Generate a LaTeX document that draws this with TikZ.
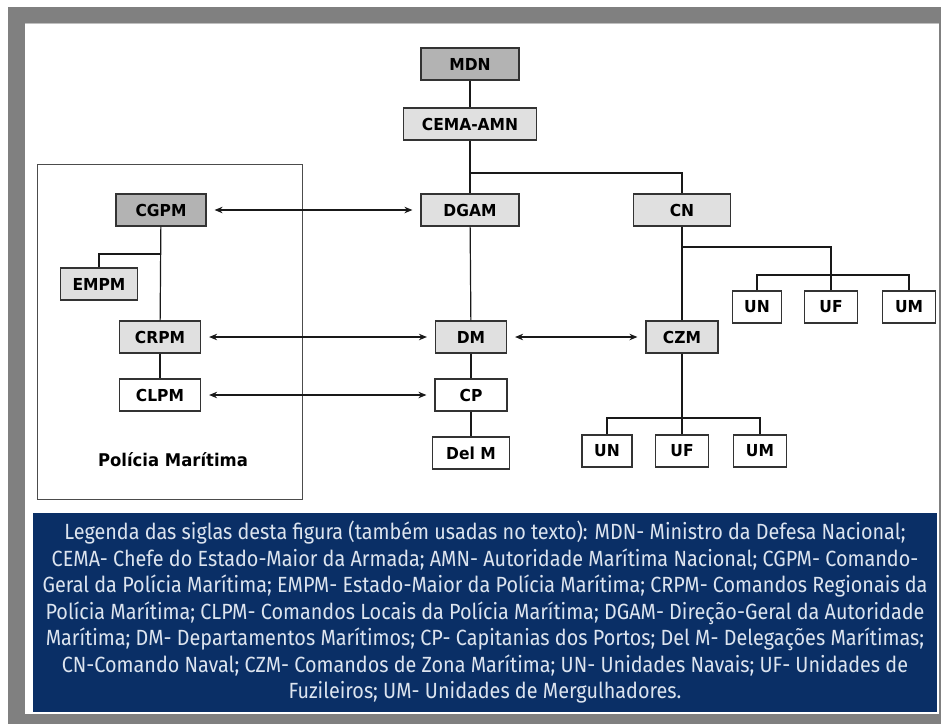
\documentclass[tikz,border=0pt]{standalone}
\usepackage{fontspec}
\setmainfont{DejaVu Sans}
\newfontfamily\boxfont[FakeStretch=0.94]{DejaVu Sans}
\newfontfamily\legendfont[FakeStretch=0.9]{Fira Sans}
\usetikzlibrary{arrows.meta}

\definecolor{framegray}{HTML}{808080}
\definecolor{darkfill}{HTML}{B3B3B3}
\definecolor{lightfill}{HTML}{E0E0E0}
\definecolor{boxline}{HTML}{333333}
\definecolor{legendblue}{HTML}{0A2F66}
\definecolor{legendtext}{HTML}{DCE4EF}

\tikzset{
  unit/.style={draw=boxline, line width=1.2pt, minimum height=32pt, inner sep=0pt,
    font=\boxfont\fontsize{16.5}{19}\selectfont\bfseries, text=black},
  dark/.style={unit, fill=darkfill},
  light/.style={unit, fill=lightfill},
  plain/.style={unit, fill=white},
  link/.style={line width=1.2pt, draw=black!90},
  twoway/.style={line width=1.2pt, draw=black!90,
    {Stealth[length=8pt,width=6.5pt]}-{Stealth[length=8pt,width=6.5pt]},
    shorten <=8pt, shorten >=8pt},
}

\begin{document}
\begin{tikzpicture}[x=1pt,y=-1pt]
\useasboundingbox (0,0) rectangle (941,724);

% frame
\fill[framegray] (8,7) rectangle (941,724);
\fill[white] (25,23) rectangle (939,714);
\draw[black!25, line width=1pt] (25,23.5) -- (939,23.5);

% Policia Maritima group
\draw[black!70, line width=0.9pt] (37,164) rectangle (302,499);
\node[font=\boxfont\fontsize{17.5}{20}\selectfont\bfseries] (pmlabel) at (173,460) {Polícia Marítima};

% nodes
\node[dark,  minimum width=98pt]  (mdn)  at (470,64)  {MDN};
\node[light, minimum width=133pt] (cema) at (470,124) {CEMA-AMN};
\node[light, minimum width=98pt]  (dgam) at (470,210) {DGAM};
\node[light, minimum width=97pt]  (cn)   at (682,210) {CN};

\node[dark,  minimum width=90pt]  (cgpm) at (161,210) {CGPM};
\node[light, minimum width=77pt]  (empm) at (99,284)  {EMPM};
\node[light, minimum width=81pt]  (crpm) at (160,337) {CRPM};
\node[plain, minimum width=81pt]  (clpm) at (160,395) {CLPM};

\node[light, minimum width=71pt]  (dm)   at (471,337) {DM};
\node[plain, minimum width=72pt]  (cp)   at (471,395) {CP};
\node[plain, minimum width=77pt]  (delm) at (471,453) {Del M};

\node[light, minimum width=72pt]  (czm)  at (682,337) {CZM};

\node[plain, minimum width=49pt]  (un1)  at (757,307) {UN};
\node[plain, minimum width=53pt]  (uf1)  at (831,307) {UF};
\node[plain, minimum width=53pt]  (um1)  at (909,307) {UM};

\node[plain, minimum width=50pt]  (un2)  at (607,451) {UN};
\node[plain, minimum width=53pt]  (uf2)  at (682,451) {UF};
\node[plain, minimum width=53pt]  (um2)  at (760,451) {UM};

% junction points
\coordinate (topsplit) at (470,173);
\coordinate (pmsplit)  at (160,254);
\coordinate (cnsplit)  at (682,247);
\coordinate (upbar)    at (831,275);
\coordinate (lowbar)   at (682,418);

% hierarchy lines
\draw[link] (mdn) -- (cema);
\draw[link] (cema) -- (dgam);
\draw[link] (topsplit) -| (cn.north);
\draw[link] (dgam) -- (dm);
\draw[link] (dm) -- (cp);
\draw[link] (cp) -- (delm);

\draw[link] (cgpm) -- (crpm);
\draw[link] (pmsplit) -| (empm.north);
\draw[link] (crpm) -- (clpm);

\draw[link] (cn) -- (czm);
\draw[link] (cnsplit) -| (uf1.north);
\draw[link] (un1.north) |- (upbar) -| (um1.north);
\draw[link] (czm) -- (uf2);
\draw[link] (un2.north) |- (lowbar) -| (um2.north);

% two-way relations
\draw[twoway] (cgpm) -- (dgam);
\draw[twoway] (crpm) -- (dm);
\draw[twoway] (clpm) -- (cp);
\draw[twoway] (dm) -- (czm);

% legend
\fill[legendblue] (33,513) rectangle (937,712);
\node[text=legendtext, align=center, inner sep=0pt,
      font=\legendfont\fontsize{22}{26.5}\selectfont] (legend) at (485,612.5)
{Legenda das siglas desta figura (também usadas no texto): MDN- Ministro da Defesa Nacional;\\
CEMA- Chefe do Estado-Maior da Armada; AMN- Autoridade Marítima Nacional; CGPM- Comando-\\
Geral da Polícia Marítima; EMPM- Estado-Maior da Polícia Marítima; CRPM- Comandos Regionais da\\
Polícia Marítima; CLPM- Comandos Locais da Polícia Marítima; DGAM- Direção-Geral da Autoridade\\
Marítima; DM- Departamentos Marítimos; CP- Capitanias dos Portos; Del M- Delegações Marítimas;\\
CN-Comando Naval; CZM- Comandos de Zona Marítima; UN- Unidades Navais; UF- Unidades de\\
Fuzileiros; UM- Unidades de Mergulhadores.};
\end{tikzpicture}
\end{document}
